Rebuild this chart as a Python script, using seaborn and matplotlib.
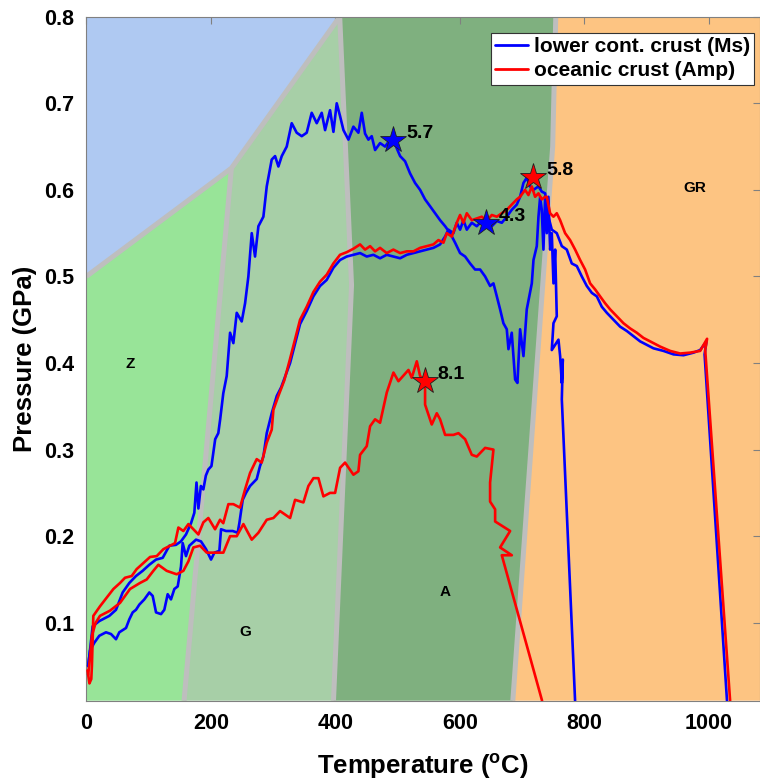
import numpy as np
import pandas as pd
import matplotlib
matplotlib.use("Agg")
import matplotlib.pyplot as plt
from matplotlib.lines import Line2D
import seaborn as sns

# ---------------- data ----------------
# phase-field polygons (Temperature degC, Pressure GPa)
zeo_T = [0, 233, 407, 0]
zeo_P = [0.5, 0.625, 0.8, 0.8]
z_T = [0, 0, 233, 157]
z_P = [0.01, 0.5, 0.625, 0.01]
g_T = [157, 233, 407, 426, 397]
g_P = [0.01, 0.625, 0.8, 0.49, 0.01]
a_T = [397, 426, 407, 754, 749, 685]
a_P = [0.01, 0.49, 0.8, 0.8, 0.65, 0.01]
gr_T = [685, 749, 754, 1082, 1082]
gr_P = [0.01, 0.65, 0.8, 0.8, 0.01]

bnd1_T = [0, 233, 407]
bnd1_P = [0.5, 0.625, 0.8]
bnd2_T = [157, 233]
bnd2_P = [0.01, 0.625]
bnd3_T = [407, 426, 397]
bnd3_P = [0.8, 0.49, 0.01]
bnd4_T = [754, 749, 685]
bnd4_P = [0.8, 0.65, 0.01]

field_labels = ["Z", "G", "A", "GR"]
field_T = [70, 256, 576, 978]
field_P = [0.399, 0.089, 0.136, 0.602]

# lower continental crust, path 1 (star 5.7)
blue1_T = [3, 5, 10.2, 20.9, 37, 47.7, 58.4, 69.1, 79.8, 90.5, 101.2, 112, 122.7, 133.4, 144, 152,
           160.1, 168.2, 173.5, 177, 180, 184, 188, 192, 196, 201, 207, 212, 215, 220, 225.5, 230.9,
           236.2, 241.6, 249.6, 255, 260.3, 265.7, 271, 276.4, 284.4, 289.8, 297.8, 303.2, 308.5,
           313.9, 321.9, 329.9, 337.9, 346, 354, 362, 370.1, 378.1, 383.5, 391.5, 396.9, 402.2,
           407.6, 413, 421, 429, 437, 442.4, 447.7, 453.1, 458.4, 463.8, 471.8, 479.9, 487.9, 493.2,
           498.6, 504, 512, 520, 528, 536.1, 544.1, 552.2, 560.2, 568.2, 576.3, 584.3, 592.3, 600.3,
           608.4, 616.4, 624.4, 632.5, 640.5, 648.5, 653.9, 659.3, 664.6, 669.9, 675.3, 678, 683.3,
           688.7, 692.4, 696.7, 702.1, 707.4, 715.5, 718.2, 723.5, 726.2, 728.9, 731.5, 734.2, 736.9,
           739.6, 742.2, 744.9, 747.6, 750.3, 753, 755.6, 750.3, 747.6, 758.3, 761, 763.7, 765.3,
           763.7, 785]
blue1_P = [0.05, 0.062, 0.096, 0.102, 0.108, 0.115, 0.135, 0.146, 0.154, 0.16, 0.167, 0.173, 0.175,
           0.189, 0.19, 0.194, 0.202, 0.215, 0.227, 0.262, 0.232, 0.258, 0.254, 0.27, 0.277, 0.281,
           0.312, 0.319, 0.335, 0.365, 0.385, 0.435, 0.423, 0.458, 0.448, 0.469, 0.5, 0.55, 0.523,
           0.558, 0.569, 0.604, 0.635, 0.639, 0.627, 0.639, 0.65, 0.677, 0.666, 0.662, 0.666, 0.689,
           0.677, 0.689, 0.669, 0.692, 0.667, 0.7, 0.685, 0.669, 0.658, 0.673, 0.666, 0.689, 0.665,
           0.658, 0.662, 0.646, 0.654, 0.65, 0.658, 0.658, 0.648, 0.639, 0.633, 0.619, 0.608, 0.6,
           0.589, 0.581, 0.573, 0.565, 0.558, 0.55, 0.539, 0.527, 0.523, 0.515, 0.508, 0.508, 0.5,
           0.489, 0.492, 0.477, 0.462, 0.446, 0.439, 0.416, 0.435, 0.381, 0.377, 0.439, 0.408, 0.462,
           0.492, 0.519, 0.535, 0.569, 0.592, 0.577, 0.531, 0.592, 0.55, 0.592, 0.531, 0.55, 0.492,
           0.531, 0.454, 0.446, 0.415, 0.427, 0.408, 0.377, 0.404, 0.358, 0.01]

# lower continental crust, path 2 (star 4.3)
blue2_T = [3, 6, 12.9, 20.9, 31.6, 39.7, 47.7, 53, 63.8, 69.1, 74.5, 79.8, 85.2, 93.2, 101.2, 106.6,
           112, 120, 125.3, 130.7, 136, 141.4, 146.8, 152.1, 154.8, 160.1, 165.5, 176.2, 184.2, 192.3,
           200.3, 205.7, 213.7, 216.4, 224.4, 235.1, 243.1, 245.8, 251.2, 256.5, 263, 273.7, 279,
           284.4, 289.8, 297.8, 305.9, 313, 327.3, 343.3, 354, 364.7, 375.4, 386.1, 396.8, 407.5,
           418.2, 429, 439.7, 450.4, 461.1, 471.8, 482.5, 493.2, 504, 514.7, 525.4, 536.1, 546.8,
           557.5, 568.2, 576.2, 581.6, 589.6, 595, 600.3, 605.7, 611.1, 619.1, 627.1, 635.2, 643.2,
           651.2, 659.3, 667.3, 675.3, 683.3, 691.4, 696.7, 702.1, 707.4, 712.8, 718.2, 726.2, 731.5,
           736.9, 742.2, 747.6, 755.6, 763.7, 771.7, 779.7, 787.8, 795.8, 803.8, 811.9, 819.9, 827.9,
           836, 846.7, 857.4, 868.1, 878.8, 889.5, 900.2, 910.9, 927, 943.1, 959.1, 975.2, 985.9,
           996, 993, 1029]
blue2_P = [0.05, 0.068, 0.077, 0.085, 0.089, 0.087, 0.081, 0.089, 0.094, 0.104, 0.112, 0.115, 0.121,
           0.127, 0.135, 0.131, 0.112, 0.11, 0.115, 0.133, 0.127, 0.139, 0.142, 0.165, 0.192, 0.177,
           0.189, 0.196, 0.194, 0.185, 0.173, 0.181, 0.183, 0.208, 0.206, 0.206, 0.204, 0.215, 0.242,
           0.25, 0.258, 0.266, 0.281, 0.292, 0.319, 0.342, 0.362, 0.372, 0.4, 0.445, 0.46, 0.477,
           0.489, 0.496, 0.51, 0.519, 0.523, 0.525, 0.527, 0.523, 0.525, 0.521, 0.525, 0.523, 0.521,
           0.525, 0.527, 0.529, 0.531, 0.533, 0.537, 0.546, 0.554, 0.55, 0.562, 0.554, 0.565, 0.554,
           0.562, 0.558, 0.564, 0.562, 0.558, 0.564, 0.562, 0.569, 0.577, 0.583, 0.592, 0.608, 0.614,
           0.604, 0.6, 0.604, 0.598, 0.596, 0.569, 0.554, 0.55, 0.535, 0.531, 0.515, 0.512, 0.5,
           0.489, 0.481, 0.477, 0.465, 0.458, 0.45, 0.442, 0.437, 0.431, 0.425, 0.421, 0.417, 0.414,
           0.41, 0.409, 0.412, 0.415, 0.425, 0.41, 0.01]

# oceanic crust, path 1 (star 5.8)
red1_T = [2, 5, 8, 9, 11.3, 22, 32.7, 43.5, 54.2, 62.2, 72.9, 80.9, 91.7, 102.4, 113.1, 123.8, 134.5,
          142.5, 147.9, 155.9, 164, 172, 180, 188, 196, 206.8, 214.8, 220, 228.2, 236.2, 246.9, 255,
          263, 273.7, 281.7, 289.8, 297.8, 300.5, 308.5, 318, 327.3, 343.3, 354, 364.7, 375.4, 386.1,
          396.8, 407.5, 418.2, 429, 439.7, 447.7, 455.8, 463.8, 471.8, 482.5, 493.2, 504, 514.7,
          525.4, 536.1, 546.8, 557.5, 565.5, 573.6, 579, 587, 595, 600.3, 605.7, 611.1, 619.1, 627.1,
          635.2, 643.2, 651.2, 659.3, 667.3, 675.3, 683.3, 691.4, 696.7, 704.7, 710.1, 715.5, 720.8,
          726.2, 731.5, 736.9, 739.6, 744.9, 750.3, 755.6, 761, 769, 777, 785.1, 793.1, 801.1, 809.2,
          817.2, 825.2, 833.3, 841.3, 852, 862.7, 873.4, 884.1, 894.8, 905.6, 921.6, 937.7, 953.8,
          969.8, 985.9, 997, 994, 1034]
red1_P = [0.045, 0.03, 0.035, 0.05, 0.108, 0.119, 0.129, 0.139, 0.146, 0.152, 0.154, 0.162, 0.169,
          0.176, 0.177, 0.185, 0.189, 0.192, 0.21, 0.206, 0.214, 0.208, 0.202, 0.216, 0.221, 0.208,
          0.219, 0.215, 0.237, 0.237, 0.233, 0.254, 0.273, 0.289, 0.285, 0.308, 0.323, 0.346, 0.362,
          0.38, 0.405, 0.45, 0.465, 0.482, 0.494, 0.502, 0.515, 0.525, 0.528, 0.532, 0.537, 0.531,
          0.535, 0.529, 0.533, 0.527, 0.531, 0.527, 0.529, 0.529, 0.533, 0.535, 0.537, 0.542, 0.539,
          0.55, 0.546, 0.562, 0.571, 0.562, 0.573, 0.565, 0.567, 0.569, 0.564, 0.571, 0.569, 0.573,
          0.577, 0.583, 0.589, 0.592, 0.6, 0.594, 0.604, 0.592, 0.596, 0.589, 0.592, 0.592, 0.573,
          0.569, 0.573, 0.565, 0.55, 0.542, 0.531, 0.519, 0.508, 0.492, 0.485, 0.477, 0.469, 0.462,
          0.454, 0.446, 0.44, 0.435, 0.429, 0.425, 0.419, 0.414, 0.411, 0.412, 0.414, 0.428, 0.415,
          0.01]

# oceanic crust, path 2 (star 8.1)
red2_T = [3, 6, 9, 15, 22, 38.1, 54.2, 70.2, 86.3, 97, 107.7, 115.7, 129.1, 145.2, 155.9, 164, 172,
          182.7, 193.4, 209.4, 220.1, 230.9, 241.6, 252.3, 265.7, 276.4, 289.8, 300.5, 311.2, 327.3,
          335.3, 348.7, 356.7, 364.8, 372.8, 380.8, 391.5, 399.6, 407.6, 415.6, 429, 437, 439.7,
          450.4, 455.8, 463.8, 471.8, 482.6, 493.3, 501.3, 517.4, 522.7, 530.8, 536.1, 544.1, 544.1,
          554.8, 562.9, 568.2, 576.3, 589.6, 597.7, 608.4, 619.1, 627.1, 640.5, 653.9, 648.5, 648.5,
          656.6, 656.6, 680.7, 664.6, 683.4, 667.3, 732]
red2_P = [0.04, 0.06, 0.085, 0.1, 0.108, 0.114, 0.123, 0.139, 0.146, 0.15, 0.16, 0.167, 0.16, 0.156,
          0.16, 0.171, 0.187, 0.189, 0.181, 0.181, 0.181, 0.2, 0.2, 0.214, 0.196, 0.204, 0.219, 0.221,
          0.229, 0.221, 0.242, 0.239, 0.258, 0.267, 0.267, 0.246, 0.25, 0.25, 0.279, 0.285, 0.271,
          0.275, 0.294, 0.304, 0.327, 0.335, 0.331, 0.366, 0.389, 0.379, 0.392, 0.383, 0.402, 0.385,
          0.379, 0.352, 0.329, 0.342, 0.335, 0.317, 0.317, 0.319, 0.312, 0.294, 0.292, 0.302, 0.3,
          0.262, 0.24, 0.231, 0.217, 0.206, 0.187, 0.178, 0.178, 0.01]

# stars: maximum-pressure markers
star_T = [493.2, 642.1, 718.2, 544.2]
star_P = [0.658, 0.562, 0.615, 0.379]
star_lab = ["5.7", "4.3", "5.8", "8.1"]
star_col = ["#0000ff", "#0000ff", "#ff0000", "#ff0000"]

series_names = ["lower cont. crust (Ms)", "oceanic crust (Amp)"]
xticks = [0, 200, 400, 600, 800, 1000]
yticks = [0.1, 0.2, 0.3, 0.4, 0.5, 0.6, 0.7, 0.8]

# ---------------- style ----------------
sns.set_theme(style="white")
plt.rcParams["font.family"] = ["Liberation Sans", "DejaVu Sans"]
plt.rcParams["mathtext.fontset"] = "custom"
plt.rcParams["mathtext.bf"] = "Liberation Sans:bold"
plt.rcParams["mathtext.rm"] = "Liberation Sans"
plt.rcParams["text.color"] = "black"
plt.rcParams["axes.labelcolor"] = "black"
plt.rcParams["xtick.labelcolor"] = "black"
plt.rcParams["ytick.labelcolor"] = "black"

fig = plt.figure(figsize=(7.6, 7.82), dpi=100)
ax = fig.add_axes([86.3 / 760, 1 - 700.7 / 782, 1 - 86.3 / 760, (700.7 - 16.7) / 782])

C_ZEO = "#afc9f2"
C_Z = "#98e498"
C_G = "#a7cfa7"
C_A = "#7fb07f"
C_GR = "#fdc482"
C_BND = "#bebebe"

for T, P, c in [(zeo_T, zeo_P, C_ZEO), (z_T, z_P, C_Z), (g_T, g_P, C_G),
                (a_T, a_P, C_A), (gr_T, gr_P, C_GR)]:
    ax.fill(T, P, color=c, lw=0, zorder=0)

for T, P in [(bnd1_T, bnd1_P), (bnd2_T, bnd2_P), (bnd3_T, bnd3_P), (bnd4_T, bnd4_P)]:
    ax.plot(T, P, color=C_BND, lw=3.6, solid_capstyle="butt", zorder=1)

for lab, T, P in zip(field_labels, field_T, field_P):
    ax.text(T, P, lab, fontsize=11, fontweight="bold", ha="center", va="center", zorder=2,
            color="black")

BLUE = "#0000ff"
RED = "#ff0000"
for T, P, c in [(blue1_T, blue1_P, BLUE), (blue2_T, blue2_P, BLUE),
                (red1_T, red1_P, RED), (red2_T, red2_P, RED)]:
    df = pd.DataFrame({"T": T, "P": P})
    sns.lineplot(data=df, x="T", y="P", sort=False, estimator=None, color=c, lw=1.9, ax=ax,
                 zorder=3)

for T, P, lab, c in zip(star_T, star_P, star_lab, star_col):
    ax.plot([T], [P], marker="*", ms=20, color=c, mec="#202020", mew=0.6, zorder=5, ls="none")
    ax.annotate(lab, (T, P), xytext=(9, 4.5), textcoords="offset points", ha="left", va="center",
                fontsize=14, fontweight="bold", zorder=6, color="black")

ax.set_xlim(0, 1082)
ax.set_ylim(0.01, 0.8)
ax.set_xticks(xticks)
ax.set_yticks(yticks)
ax.set_xticklabels([str(t) for t in xticks])
ax.set_yticklabels([f"{t:.1f}" for t in yticks])
ax.tick_params(direction="in", length=5, width=0.8, color="#808080", labelcolor="black",
               top=True, right=True, labelsize=15.5, pad=9)
for lbl in ax.get_xticklabels() + ax.get_yticklabels():
    lbl.set_fontweight("bold")
for s in ax.spines.values():
    s.set_color("#808080")
    s.set_linewidth(0.8)

ax.set_xlabel(r"Temperature ($^{\mathbf{o}}$C)", fontsize=18.5, fontweight="bold", labelpad=12,
              color="black")
ax.set_ylabel("Pressure (GPa)", fontsize=18.5, fontweight="bold", labelpad=5, color="black")

handles = [Line2D([], [], color=BLUE, lw=2), Line2D([], [], color=RED, lw=2)]
leg = ax.legend(handles, series_names, loc="upper right", bbox_to_anchor=(0.991, 0.976),
                frameon=True, fancybox=False, framealpha=1, edgecolor="#333333",
                prop={"weight": "bold", "size": 15}, handlelength=1.6, handletextpad=0.25,
                borderpad=0.2, labelspacing=0.25, borderaxespad=0)
leg.get_frame().set_linewidth(0.8)
for t in leg.get_texts():
    t.set_color("black")
leg.set_zorder(10)

fig.savefig("out.png", dpi=100)
